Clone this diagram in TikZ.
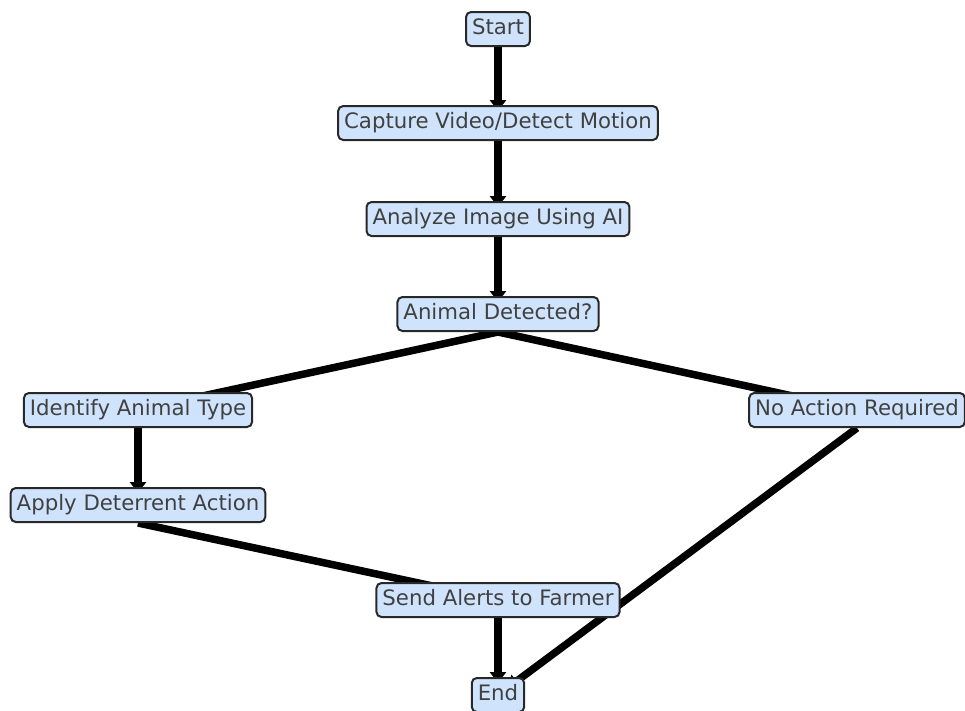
\documentclass[tikz,border=0pt]{standalone}
\usepackage{fontspec}
\setmainfont{DejaVu Sans}
\usetikzlibrary{arrows.meta,backgrounds}
\definecolor{boxfill}{RGB}{207,228,252}
\definecolor{boxdraw}{RGB}{40,40,40}
\definecolor{txt}{RGB}{64,64,64}
\begin{document}
\begin{tikzpicture}[x=0.02cm,y=-0.02cm,
  box/.style={draw=boxdraw, line width=0.04cm, fill=boxfill, rounded corners=0.1cm,
    text=txt, font=\fontsize{12.1pt}{14pt}\selectfont, inner xsep=0.12cm, inner ysep=0pt,
    minimum height=0.68cm, text height=9pt, text depth=2.9pt},
  flow/.style={line width=0.15cm, draw=black, -{Triangle[width=0.32cm,length=0.22cm]}, shorten >=0.24cm}]
\useasboundingbox (0,0) rectangle (965,711);
\node[box] (start) at (498,29) {Start};
\node[box] (capture) at (498,123) {Capture Video/Detect Motion};
\node[box] (analyze) at (498,219) {Analyze Image Using AI};
\node[box] (animal) at (498,314) {Animal Detected?};
\node[box] (identify) at (138,410) {Identify Animal Type};
\node[box] (noaction) at (857,410) {No Action Required};
\node[box] (apply) at (138,505) {Apply Deterrent Action};
\node[box] (send) at (498,600) {Send Alerts to Farmer};
\node[box] (end) at (498,695) {End};
\begin{pgfonlayer}{background}
\draw[flow] (start.south) -- (capture.center);
\draw[flow] (capture.south) -- (analyze.center);
\draw[flow] (analyze.south) -- (animal.center);
\draw[flow] (animal.south) -- (identify.center);
\draw[flow] (animal.south) -- (noaction.center);
\draw[flow] (identify.south) -- (apply.center);
\draw[flow] (apply.south) -- (send.center);
\draw[flow] (send.south) -- (end.center);
\draw[flow] (noaction.south) -- (end.center);
\end{pgfonlayer}
\end{tikzpicture}
\end{document}
